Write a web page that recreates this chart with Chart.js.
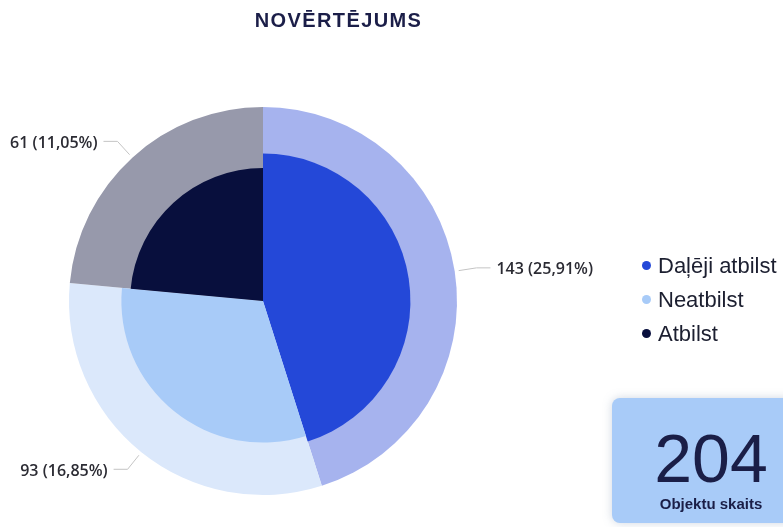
<!DOCTYPE html>
<html>
<head>
<meta charset="utf-8">
<script src="https://cdn.jsdelivr.net/npm/chart.js@4"></script>
<style>
    html, body { margin: 0; padding: 0; background: #fff; }
    body { width: 783px; height: 527px; position: relative; overflow: hidden; font-family: "Liberation Sans", Arial, sans-serif; }
    #chart { position: absolute; left: 0; top: 0; }
    .title { position: absolute; left: 0; width: 677px; top: 10px; line-height: 20px; text-align: center;
             font-size: 20px; font-weight: bold; letter-spacing: 1.4px; color: #1b1e48; }
    .legend { position: absolute; left: 642px; top: 249px; }
    .legend div { height: 34px; line-height: 34px; white-space: nowrap; position: relative; width: 140px; }
    .legend span.dot { position: absolute; left: 0; top: 12px; width: 9px; height: 9px; border-radius: 50%; }
    .legend span.txt { position: absolute; left: 16px; top: 0; font-size: 22px; color: #1c1f30; }
    .card { position: absolute; left: 612px; top: 398px; width: 198px; height: 125px; border-radius: 8px;
            background: #a8cbf8; box-shadow: 0 0 10px rgba(120, 140, 170, 0.35); text-align: center; color: #1a1e47; }
    .card .num { position: absolute; left: 0; width: 198px; top: 26px; font-size: 68px; line-height: 68px; }
    .card .lbl { position: absolute; left: 0; width: 198px; top: 98px; font-size: 15px; line-height: 15px; font-weight: bold; }
</style>
</head>
<body>
<canvas id="chart" width="783" height="527"></canvas>
<div class="title">NOVĒRTĒJUMS</div>
<div class="legend" id="legend"></div>
<div class="card"><div class="num" id="kopa"></div><div class="lbl">Objektu skaits</div></div>
<script>
// kategorijas
const kategorijas = ['Daļēji atbilst', 'Neatbilst', 'Atbilst'];
// objektu skaits pa kategorijām (sektoru lielums)
const objektuSkaits = [92, 64, 48];
// vērtējumu skaits (etiķetes)
const vertejumuSkaits = [143, 93, 61];
const vertejumiKopa = 552;

const arejasKrasas = ['#a6b3ee', '#dbe8fb', '#9799ab'];
const iekshKrasas = ['#2448d8', '#a8cbf8', '#080f3d'];
// iekšējo sektoru rādiuss attiecībā pret ārējo
const iekshRadiuss = [0.76, 0.73, 0.685];

document.getElementById('kopa').textContent = objektuSkaits.reduce((a, b) => a + b, 0);

const legendEl = document.getElementById('legend');
kategorijas.forEach(function(k, i) {
    const row = document.createElement('div');
    row.innerHTML = '<span class="dot" style="background:' + iekshKrasas[i] + '"></span><span class="txt">' + k + '</span>';
    legendEl.appendChild(row);
});

// radiusu pielāgošana: ārējais ir pilns aplis, iekšējais ar dažādiem rādiusiem
const radiusPlugin = {
    id: 'radiusPlugin',
    afterDatasetsUpdate(chart) {
        const R = Math.min(chart.chartArea.width, chart.chartArea.height) / 2;
        chart.getDatasetMeta(0).data.forEach(function(a) { a.innerRadius = 0; a.outerRadius = R; });
        chart.getDatasetMeta(1).data.forEach(function(a, i) { a.innerRadius = 0; a.outerRadius = R * iekshRadiuss[i]; });
    }
};

// etiķetes ar vadlīnijām
const labelPlugin = {
    id: 'labelPlugin',
    afterDraw(chart) {
        const ctx = chart.ctx;
        ctx.save();
        ctx.font = '600 16px "Open Sans", sans-serif';
        ctx.fillStyle = '#2b2b33';
        ctx.strokeStyle = '#c4c4c4';
        ctx.lineWidth = 1;
        ctx.textBaseline = 'middle';
        chart.getDatasetMeta(0).data.forEach(function(arc, i) {
            const mid = (arc.startAngle + arc.endAngle) / 2;
            const r = arc.outerRadius;
            const c = Math.cos(mid), s = Math.sin(mid);
            const x0 = arc.x + c * (r + 4), y0 = arc.y + s * (r + 4);
            const x1 = arc.x + c * (r + 22), y1 = arc.y + s * (r + 22);
            const dir = c >= 0 ? 1 : -1;
            const x2 = x1 + dir * 14;
            ctx.beginPath();
            ctx.moveTo(x0, y0);
            ctx.lineTo(x1, y1);
            ctx.lineTo(x2, y1);
            ctx.stroke();
            const pct = (vertejumuSkaits[i] / vertejumiKopa * 100).toFixed(2).replace('.', ',');
            ctx.textAlign = dir > 0 ? 'left' : 'right';
            ctx.fillText(vertejumuSkaits[i] + ' (' + pct + '%)', x2 + dir * 6, y1 + 2);
        });
        ctx.restore();
    }
};

new Chart(document.getElementById('chart'), {
    type: 'pie',
    data: {
        labels: kategorijas,
        datasets: [{
            label: 'ārējais',
            data: objektuSkaits,
            backgroundColor: arejasKrasas,
            borderWidth: 0,
            order: 1
        }, {
            label: 'iekšējais',
            data: objektuSkaits,
            backgroundColor: iekshKrasas,
            borderWidth: 0,
            order: 0
        }]
    },
    options: {
        responsive: false,
        animation: false,
        events: [],
        layout: { padding: { left: 69, top: 107, right: 326, bottom: 32 } },
        plugins: {
            legend: { display: false },
            tooltip: { enabled: false },
            title: { display: false }
        }
    },
    plugins: [radiusPlugin, labelPlugin]
});
</script>
</body>
</html>
